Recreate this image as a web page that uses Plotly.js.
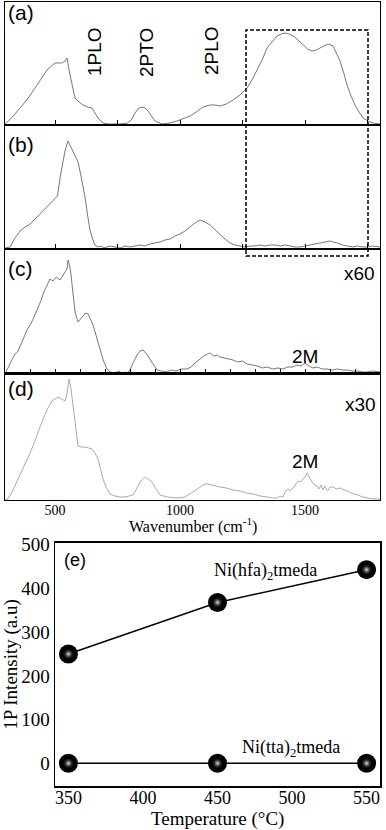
<!DOCTYPE html>
<html>
<head>
<meta charset="utf-8">
<script src="https://cdn.plot.ly/plotly-3.0.1.min.js"></script>
<style>
  html, body { margin: 0; padding: 0; background: #fff; }
  #chart { width: 386px; height: 830px; }
</style>
</head>
<body>
<div id="chart"></div>
<script>
/* ---- Spectrum (a) ---- */
const wnA = [300,330,360,390,412,440,468,500,528,540,548,560,570,580,596,612,630,648,660,672,692,712,732,760,790,805,820,835,848,860,872,888,900,928,960,988,1010,1040,1065,1092,1120,1140,1160,1185,1212,1240,1268,1290,1308,1330,1348,1370,1388,1405,1420,1436,1452,1472,1492,1510,1528,1545,1560,1576,1592,1612,1626,1640,1655,1668,1684,1700,1716,1732,1752,1772,1800];
const intA = [0,7,16,25,33,44,54,61,61,63,66,49,36,26,22,19,17,16,11,6,1,0,0,0,1,4,11,16,17,16,13,7,3,0,1,3,5,8,12,17,19,19,18,20,24,29,36,45,54,65,76,83,88,90,91,90,88,84,79,75,73,74,76,78,80,78,71,63,51,39,28,19,12,6,3,1,0];

/* ---- Spectrum (b) ---- */
const wnB = [300,320,340,360,380,400,420,440,460,480,500,510,520,530,540,552,560,572,584,592,604,620,632,640,650,660,672,684,696,708,720,740,760,780,800,820,840,860,880,900,920,940,960,980,1000,1020,1040,1060,1080,1090,1100,1120,1140,1160,1180,1200,1220,1240,1260,1280,1300,1320,1340,1360,1380,1400,1420,1440,1460,1480,1500,1520,1540,1560,1580,1600,1612,1630,1650,1670,1690,1710,1730,1750,1770,1800];
const intB = [0,1,10,17,21,24,29,34,40,45,49,52,70,85,97,107,103,96,90,86,72,51,30,18,9,3,1,2,0,1,2,1,0,2,1,2,3,2,4,5,6,8,9,12,14,17,21,25,28,27,26,23,18,13,9,5,3,2,1,2,2,3,2,3,3,2,3,2,1,1,2,3,4,5,6,7,6,5,3,2,1,2,1,1,2,1];

/* ---- Spectrum (c) x60 ---- */
const wnC = [300,310,325,340,350,365,380,390,405,420,430,445,455,470,480,492,505,520,530,540,548,552,558,564,572,580,592,602,612,622,632,642,652,666,680,694,708,722,740,755,768,780,790,800,812,828,840,852,866,880,894,908,925,948,965,985,1005,1028,1045,1060,1080,1095,1110,1120,1135,1150,1160,1175,1190,1212,1230,1250,1268,1290,1310,1330,1348,1370,1392,1412,1430,1452,1468,1484,1500,1516,1532,1550,1568,1588,1610,1630,1650,1668,1690,1710,1730,1748,1770,1800];
const intC = [0,4,12,19,21,29,38,44,50,59,64,73,81,88,94,92,96,93,97,101,104,113,108,98,80,61,51,54,56,60,59,54,48,36,24,12,4,1,0,2,0,1,0,3,10,18,22,23,19,14,8,3,2,1,3,2,4,4,6,10,14,17,19,20,17,18,16,15,14,13,11,12,9,8,7,5,6,4,5,4,6,6,8,7,10,7,5,6,4,4,3,4,3,3,2,2,1,1,2,1];

/* ---- Spectrum (d) x30 ---- */
const wnD = [300,312,330,345,360,380,400,412,430,452,470,488,500,512,526,540,548,556,564,572,582,592,606,620,634,648,660,672,682,692,706,720,740,760,780,800,812,826,840,850,860,872,888,904,920,950,988,1020,1052,1080,1100,1112,1125,1140,1160,1185,1212,1240,1265,1292,1320,1348,1370,1388,1400,1412,1420,1432,1440,1452,1462,1472,1482,1492,1500,1508,1516,1528,1538,1548,1556,1564,1572,1580,1590,1600,1612,1625,1640,1655,1668,1685,1700,1712,1730,1748,1770,1800];
const intD = [0,0,8,16,23,34,46,53,66,80,90,98,100,102,100,98,105,120,110,93,70,53,52,52,51,50,46,40,30,20,11,5,3,2,2,3,4,10,17,20,22,20,17,10,4,2,1,2,7,12,15,15,14,13,12,11,9,8,6,5,3,2,1,1,3,2,7,10,8,11,15,18,17,20,22,26,22,17,14,13,10,14,9,13,8,12,12,10,11,9,8,6,5,4,2,1,0,0];

/* ---- Panel (e) ---- */
const temps = [350, 450, 550];
const hfa = [250, 368, 443];
const tta = [0, 0, 0];

const SERIF = 'Liberation Serif, Times New Roman, serif';
const SANS = 'Liberation Sans, Arial, sans-serif';
const XDOM = [0.013, 0.9845];

function specTrace(x, y, n, color) {
  return {
    x, y, type: 'scatter', mode: 'lines',
    xaxis: 'x' + (n === 1 ? '' : n), yaxis: 'y' + (n === 1 ? '' : n),
    line: { color, width: 1 }, hoverinfo: 'skip',
  };
}

function specX(dtick, anchor) {
  return {
    domain: XDOM, range: [300, 1800], anchor,
    showline: true, mirror: true, linecolor: '#000', linewidth: 1,
    showgrid: false, zeroline: false,
    ticks: 'inside', ticklen: 5, tickcolor: '#000', dtick, tick0: 0,
    showticklabels: false,
  };
}

function specY(dom, top, anchor) {
  return {
    domain: dom, range: [-1, top], anchor,
    showline: true, mirror: true, linecolor: '#000', linewidth: 1,
    showgrid: false, zeroline: false, ticks: '', showticklabels: false,
  };
}

// spheres: solid black ball + small radial highlight on top
function ballTraces(y) {
  return [
    {
      x: temps, y, type: 'scatter', mode: 'lines+markers',
      xaxis: 'x5', yaxis: 'y5',
      line: { color: '#000', width: 1.5 },
      marker: { size: 19, color: '#000' },
    },
    {
      x: temps, y, type: 'scatter', mode: 'markers',
      xaxis: 'x5', yaxis: 'y5',
      marker: { size: 12, color: 'rgba(0,0,0,0)', gradient: { type: 'radial', color: '#e6e6e6' } },
    },
  ];
}

const traces = [
  specTrace(wnA, intA, 1, '#777'),
  specTrace(wnB, intB, 2, '#777'),
  specTrace(wnC, intC, 3, '#777'),
  specTrace(wnD, intD, 4, '#aaa'),
  ...ballTraces(hfa),
  ...ballTraces(tta),
];

function lab(text, x, y, xr, yr, size, opts) {
  return Object.assign({
    text, x, y, xref: xr, yref: yr, showarrow: false,
    xanchor: 'center', yanchor: 'middle',
    font: { family: SANS, size, color: '#000' },
  }, opts || {});
}

const serifFont = { family: SERIF, size: 18, color: '#000' };

const annotations = [
  lab('(a)', 303, 111, 'x', 'y', 21, { xanchor: 'left' }),
  lab('1PLO', 660, 72, 'x', 'y', 19, { textangle: -90 }),
  lab('2PTO', 868, 71, 'x', 'y', 19, { textangle: -90 }),
  lab('2PLO', 1128, 73, 'x', 'y', 19, { textangle: -90 }),
  lab('(b)', 303, 103, 'x2', 'y2', 21, { xanchor: 'left' }),
  lab('(c)', 303, 105, 'x3', 'y3', 21, { xanchor: 'left' }),
  lab('x60', 1788, 100, 'x3', 'y3', 19, { xanchor: 'right' }),
  lab('2M', 1500, 17, 'x3', 'y3', 19),
  lab('(d)', 303, 110, 'x4', 'y4', 21, { xanchor: 'left' }),
  lab('x30', 1792, 94, 'x4', 'y4', 19, { xanchor: 'right' }),
  lab('2M', 1500, 37, 'x4', 'y4', 19),
  lab('Wavenumber (cm<sup>-1</sup>)', 1050, 1 - 525 / 830, 'x4', 'paper', 16, { font: { family: SERIF, size: 16, color: '#000' } }),
  lab('(e)', 346, 466, 'x5', 'y5', 18, { xanchor: 'left' }),
  lab('Ni(hfa)<sub>2</sub>tmeda', 482, 438, 'x5', 'y5', 18, { font: serifFont }),
  lab('Ni(tta)<sub>2</sub>tmeda', 499, 34, 'x5', 'y5', 18, { font: serifFont }),
  lab('Temperature (°C)', 450, 1 - 819 / 830, 'x5', 'paper', 19, { font: { family: SERIF, size: 19, color: '#000' } }),
];

const layout = {
  width: 386, height: 830,
  margin: { t: 0, r: 0, b: 0, l: 0 },
  paper_bgcolor: '#fff', plot_bgcolor: 'rgba(0,0,0,0)',
  showlegend: false,
  font: { family: SERIF, color: '#000' },
  xaxis: specX(250, 'y'),
  yaxis: specY([0.8494, 0.9976], 122, 'x'),
  xaxis2: specX(250, 'y2'),
  yaxis2: specY([0.7000, 0.8494], 123, 'x2'),
  xaxis3: specX(100, 'y3'),
  yaxis3: specY([0.5494, 0.7000], 124, 'x3'),
  xaxis4: Object.assign(specX(100, 'y4'), {
    ticks: '', showticklabels: true, tickvals: [500, 1000, 1500], linewidth: 1.5,
    ticklabelstandoff: -3,
    tickfont: { family: SERIF, size: 14, color: '#000' },
  }),
  yaxis4: specY([0.3976, 0.5494], 125, 'x4'),
  xaxis5: {
    domain: [0.1425, 0.9845], range: [341, 559], anchor: 'y5',
    showline: true, mirror: true, linecolor: '#000', linewidth: 1.5,
    showgrid: false, zeroline: false, ticks: '',
    ticklabelstandoff: -5,
    tickvals: [350, 400, 450, 500, 550],
    tickfont: { family: SERIF, size: 18, color: '#000' },
  },
  yaxis5: {
    domain: [0.0530, 0.3458], range: [-52, 504], anchor: 'x5',
    showline: true, mirror: true, linecolor: '#000', linewidth: 1.5,
    showgrid: false, zeroline: false, ticks: '',
    tickvals: [0, 100, 200, 300, 400, 500],
    tickfont: { family: SERIF, size: 19, color: '#000' },
    title: { text: '1P Intensity (a.u)', font: { family: SERIF, size: 19, color: '#000' }, standoff: 4 },
  },
  shapes: [
    {
      type: 'rect', xref: 'x', yref: 'paper',
      x0: 1264, x1: 1752, y0: 0.6916, y1: 0.9639,
      line: { color: '#000', width: 1.5, dash: '4px,2px' },
    },
  ],
  annotations,
};

Plotly.newPlot('chart', traces, layout, { displayModeBar: false, staticPlot: true });
</script>
</body>
</html>
